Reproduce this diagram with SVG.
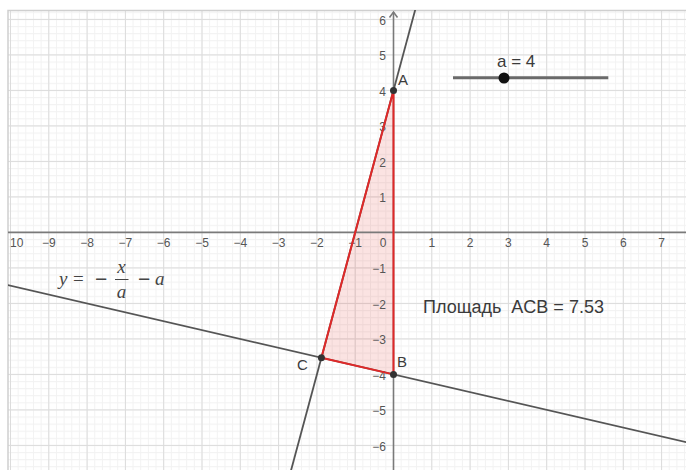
<svg xmlns="http://www.w3.org/2000/svg" width="686" height="470" viewBox="0 0 686 470">
<style>
.maj{stroke:#dcdcdc;stroke-width:1;fill:none}
.axis{stroke:#7a7a7a;stroke-width:1.6;fill:none}
.fn{stroke:#555;stroke-width:1.8;fill:none}
.tri{stroke:#e02828;stroke-width:2;fill:none;stroke-linejoin:round}
.tick{font-family:"Liberation Sans",Arial,sans-serif;font-size:12px;fill:#555}
.xt{text-anchor:middle}
.yt{text-anchor:end}
.lbl{font-family:"Liberation Sans",Arial,sans-serif;font-size:15px;fill:#3a3a3a}
.pt{fill:#333}
.math{font-family:"Liberation Serif","Times New Roman",serif;font-size:19px;fill:#444}
.op{font-family:"Liberation Sans",Arial,sans-serif;font-size:21px;fill:#444}
.it{font-style:italic}
</style>
<defs>
<pattern id="minor" patternUnits="userSpaceOnUse" x="393" y="231.9" width="7.66" height="7.1">
<path d="M0.5 0V7.1M0 0.5H7.66" stroke="#f2f2f2" stroke-width="1" fill="none"/>
</pattern>
<clipPath id="view"><rect x="8" y="10" width="678" height="460"/></clipPath>
</defs>
<rect width="686" height="470" fill="#ffffff"/>
<g id="grid" clip-path="url(#view)">
<rect x="8" y="10" width="678" height="460" fill="url(#minor)"/>
<path class="maj" d="M10.5 10V470M48.8 10V470M87.1 10V470M125.4 10V470M163.7 10V470M202 10V470M240.3 10V470M278.6 10V470M316.9 10V470M355.2 10V470M431.8 10V470M470.1 10V470M508.4 10V470M546.7 10V470M585 10V470M623.3 10V470M661.6 10V470"/>
<path class="maj" d="M8 19.4H686M8 54.9H686M8 90.4H686M8 125.9H686M8 161.4H686M8 196.9H686M8 267.9H686M8 303.4H686M8 338.9H686M8 374.4H686M8 409.9H686M8 445.4H686"/>
</g>
<path id="border" d="M8 470V10.5H686" stroke="#cfcfcf" stroke-width="1.5" fill="none"/>
<g id="triangle-fill">
<polygon points="393.5,90.4 321.4,357.7 393.5,374.4" fill="#e53935" fill-opacity="0.14"/>
</g>
<g id="axes">
<path class="axis" d="M8 232.4H686"/>
<path class="axis" d="M393.5 12V470"/>
<polyline class="axis" points="389.5,17.5 393.5,12 397.5,17.5" stroke-width="1.3"/>
</g>
<g id="tick-labels">
<text class="tick xt" x="16.7" y="247">10</text>
<text class="tick xt" x="48.8" y="247">−9</text>
<text class="tick xt" x="87.1" y="247">−8</text>
<text class="tick xt" x="125.4" y="247">−7</text>
<text class="tick xt" x="163.7" y="247">−6</text>
<text class="tick xt" x="202" y="247">−5</text>
<text class="tick xt" x="240.3" y="247">−4</text>
<text class="tick xt" x="278.6" y="247">−3</text>
<text class="tick xt" x="316.9" y="247">−2</text>
<text class="tick xt" x="355.2" y="247">−1</text>
<text class="tick xt" x="383" y="247">0</text>
<text class="tick xt" x="431.8" y="247">1</text>
<text class="tick xt" x="470.1" y="247">2</text>
<text class="tick xt" x="508.4" y="247">3</text>
<text class="tick xt" x="546.7" y="247">4</text>
<text class="tick xt" x="585" y="247">5</text>
<text class="tick xt" x="623.3" y="247">6</text>
<text class="tick xt" x="661.6" y="247">7</text>
<text class="tick yt" x="386" y="24.6">6</text>
<text class="tick yt" x="386" y="60.1">5</text>
<text class="tick yt" x="386" y="95.6">4</text>
<text class="tick yt" x="386" y="131.1">3</text>
<text class="tick yt" x="386" y="166.6">2</text>
<text class="tick yt" x="386" y="202.1">1</text>
<text class="tick yt" x="386" y="273.1">−1</text>
<text class="tick yt" x="386" y="308.6">−2</text>
<text class="tick yt" x="386" y="344.1">−3</text>
<text class="tick yt" x="386" y="379.6">−4</text>
<text class="tick yt" x="386" y="415.1">−5</text>
<text class="tick yt" x="386" y="450.6">−6</text>
</g>
<g id="connectors" clip-path="url(#view)">
<line id="line-AC" class="fn" x1="422.2" y1="-16.1" x2="288.2" y2="480.9"/>
<line id="line-CB" class="fn" x1="-27.8" y1="276.8" x2="699.9" y2="445.4"/>
<polygon id="triangle-ACB" class="tri" points="393.5,90.4 321.4,357.7 393.5,374.4"/>
</g>
<g id="A"><circle class="pt" cx="393.5" cy="90.4" r="3.5"/><text class="lbl" x="398" y="85">A</text></g>
<g id="B"><circle class="pt" cx="393.5" cy="374.4" r="3.5"/><text class="lbl" x="397" y="367">B</text></g>
<g id="C"><circle class="pt" cx="321.4" cy="357.7" r="3.5"/><text class="lbl" x="297" y="370">C</text></g>
<g id="slider">
<line x1="453" y1="77.7" x2="608.3" y2="77.7" stroke="#6a6a6a" stroke-width="3"/>
<circle cx="504" cy="78" r="5.5" fill="#111"/>
<text class="lbl" x="497" y="67" style="font-size:17px">a = 4</text>
</g>
<g id="formula">
<text class="math it" x="59" y="285">y</text>
<text class="math" x="73" y="285">=</text>
<text class="op" x="95" y="286">−</text>
<text class="math it" x="121.5" y="273" text-anchor="middle">x</text>
<line x1="115" y1="279.5" x2="128.5" y2="279.5" stroke="#444" stroke-width="1"/>
<text class="math it" x="121.5" y="298" text-anchor="middle">a</text>
<text class="op" x="138" y="286">−</text>
<text class="math it" x="155" y="285">a</text>
</g>
<g id="area-label">
<text class="lbl" x="423" y="313" style="font-size:18px;white-space:pre" xml:space="preserve">Площадь  ACB = 7.53</text>
</g>
</svg>
